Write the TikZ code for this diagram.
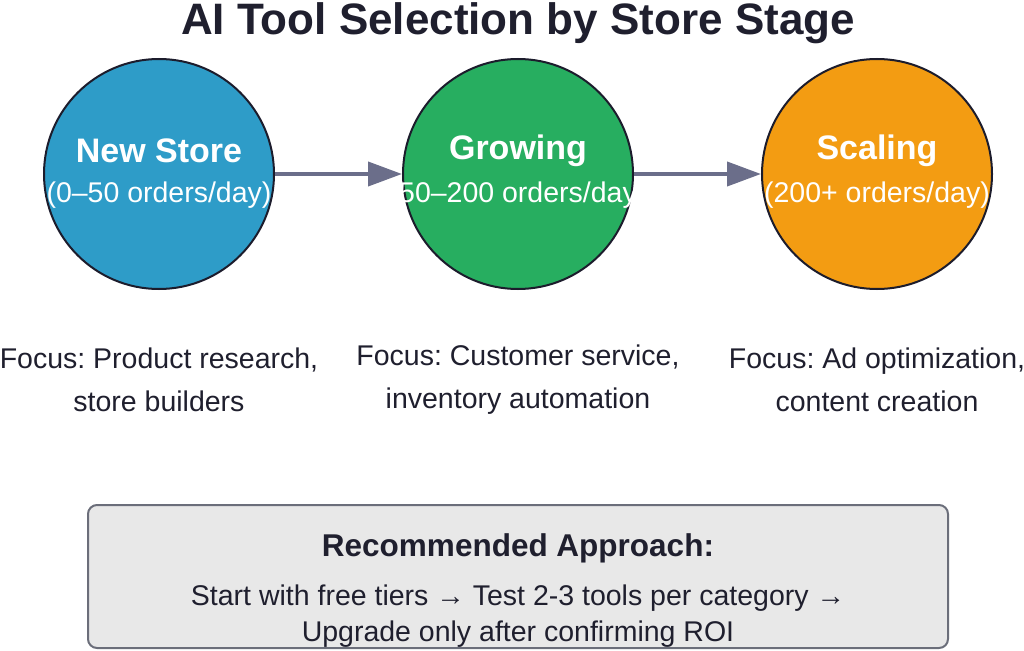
\documentclass[tikz,border=0pt]{standalone}
\usepackage{fontspec}
\setmainfont{Liberation Sans}
\usetikzlibrary{arrows.meta}
\definecolor{bord}{HTML}{1C1C2C}
\definecolor{arr}{HTML}{6B6E8A}
\definecolor{cblue}{HTML}{2E9CC8}
\definecolor{cgreen}{HTML}{27AE60}
\definecolor{corange}{HTML}{F39C12}
\definecolor{txt}{HTML}{1F1F2E}
\definecolor{boxfill}{HTML}{E8E8E8}
\definecolor{boxbord}{HTML}{6B6E7A}
\begin{document}
\frenchspacing
\begin{tikzpicture}[x=1pt,y=-1pt,
  stage/.style={circle,draw=bord,line width=2pt,minimum size=230pt,inner sep=0pt},
  head/.style={text=white,font=\fontsize{34}{40}\selectfont\bfseries},
  sub/.style={text=white,font=\fontsize{28.5}{32}\selectfont},
  focus/.style={text=txt,font=\fontsize{28.5}{43}\selectfont,align=center},
  conn/.style={draw=arr,line width=4pt,-{Triangle[length=34pt,width=24pt]}}]
\useasboundingbox (0,0) rectangle (1024,650);
\node[text=txt,font=\fontsize{44}{50}\selectfont\bfseries] (title) at (518,23) {AI Tool Selection by Store Stage};
\node[stage,fill=cblue] (c1) at (159,174) {};
\node[stage,fill=cgreen] (c2) at (518,174) {};
\node[stage,fill=corange] (c3) at (877,174) {};
\draw[conn] (c1.east) -- (c2.west);
\draw[conn] (c2.east) -- (c3.west);
\node[head] (h1) at (159,151) {New Store};
\node[sub] (s1) at (159,195) {(0–50 orders/day)};
\node[head] (h2) at (518,151) {Growing};
\node[sub] (s2) at (518,195) {(50–200 orders/day)};
\node[head] (h3) at (877,151) {Scaling};
\node[sub] (s3) at (877,195) {(200+ orders/day)};
\node[focus] (f1) at (159,380) {Focus: Product research,\\store builders};
\node[focus] (f2) at (518,380) {Focus: Customer service,\\inventory automation};
\node[focus] (f3) at (877,380) {Focus: Ad optimization,\\content creation};
\draw[fill=boxfill,draw=boxbord,line width=2pt,rounded corners=9pt] (88,505) rectangle (948,648);
\node[text=txt,font=\fontsize{31.5}{34}\selectfont\bfseries] (rh) at (518,548) {Recommended Approach:};
\node[text=txt,font=\fontsize{28.5}{36}\selectfont,align=center] (rt) at (518,616) {Start with free tiers → Test 2-3 tools per category →\\Upgrade only after confirming ROI};
\end{tikzpicture}
\end{document}
